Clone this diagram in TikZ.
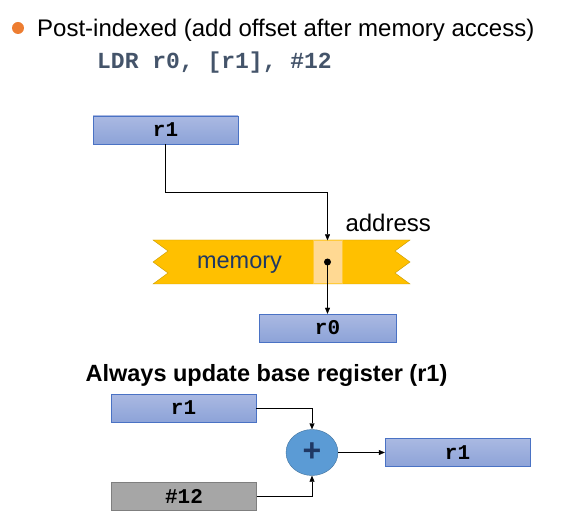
\documentclass[tikz,border=0pt]{standalone}
\usepackage{fontspec}
\setmainfont{Liberation Sans}
\setmonofont{Liberation Mono}
\usetikzlibrary{arrows.meta,shapes.geometric}

\definecolor{regtop}{HTML}{AAB9E2}
\definecolor{regbot}{HTML}{8DA3D8}
\definecolor{regedge}{HTML}{4A72C4}
\definecolor{memfill}{HTML}{FFC000}
\definecolor{memedge}{HTML}{C89A00}
\definecolor{cellfill}{HTML}{FFD993}
\definecolor{codeblue}{HTML}{44546A}
\definecolor{navy}{HTML}{1F3864}
\definecolor{addfill}{HTML}{5B9BD5}
\definecolor{addedge}{HTML}{41719C}
\definecolor{immfill}{HTML}{A6A6A6}
\definecolor{immedge}{HTML}{7F7F7F}
\definecolor{dotorange}{HTML}{ED7D31}

\tikzset{
  reg/.style={draw=regedge, top color=regtop, bottom color=regbot,
              minimum width=145, minimum height=28, inner sep=0,
              font=\fontsize{21}{21}\selectfont\ttfamily\bfseries},
  imm/.style={reg, draw=immedge, top color=immfill, bottom color=immfill},
  arr/.style={-{Triangle[length=6pt,width=5pt]}, thin}
}

\begin{document}
\begin{tikzpicture}[x=1pt,y=-1pt]
  \useasboundingbox (0,0) rectangle (575,518);

  % Heading and instruction
  \fill[dotorange] (18,28) circle (6);
  \node[anchor=west, inner sep=0, font=\fontsize{24}{24}\selectfont] (title) at (37,30.5)
    {Post-indexed (add offset after memory access)};
  \node[inner sep=0, text=codeblue, font=\fontsize{23}{23}\selectfont\ttfamily\bfseries] (code) at (214.5,63)
    {LDR r0, [r1], \#12};

  % Memory access
  \node[reg] (base) at (165.5,130) {r1};
  \draw[draw=memedge, fill=memfill]
    (153,240) -- (410,240) -- (395,251) -- (410,262) -- (395,273) -- (410,284)
    -- (153,284) -- (168,273) -- (153,262) -- (168,251) -- cycle;
  \node[text=navy, font=\fontsize{23.5}{23.5}\selectfont] (memlbl) at (239.5,264.5) {memory};
  \node[fill=cellfill, draw=memfill!60!cellfill, minimum width=29, minimum height=43, inner sep=0] (cell) at (327.5,262) {};
  \fill (cell.center) circle (3.5);
  \node[anchor=west, font=\fontsize{24}{24}\selectfont] (addrlbl) at (342,223) {address};
  \node[reg, minimum width=137] (dest) at (327.5,328) {r0};
  \draw[arr] (base.south) -- ++(0,48) -| (cell.north);
  \draw[arr] (cell.center) -- (dest.north);

  % Base register update
  \node[font=\fontsize{23.5}{23.5}\selectfont\bfseries] (update) at (266.5,375)
    {Always update base register (r1)};
  \node[reg] (oldbase) at (183.5,408) {r1};
  \node[imm] (offset) at (184,496.5) {\#12};
  \node[ellipse, draw=addedge, fill=addfill, minimum width=52, minimum height=46, inner sep=0,
        text=navy, font=\fontsize{32}{32}\selectfont\bfseries] (adder) at (312,452.5) {+};
  \node[reg] (newbase) at (457.5,452.5) {r1};
  \draw[arr] (oldbase.east) -| (adder.north);
  \draw[arr] (offset.east) -| (adder.south);
  \draw[arr] (adder.east) -- (newbase.west);
\end{tikzpicture}
\end{document}
